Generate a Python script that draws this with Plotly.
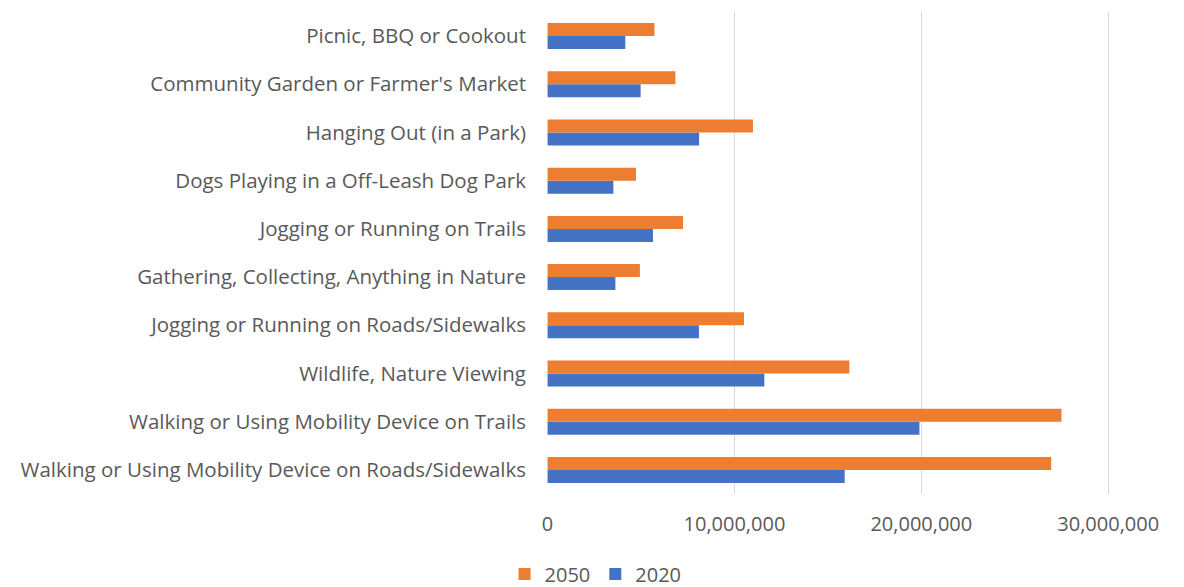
import plotly.graph_objects as go

categories = [
    "Walking or Using Mobility Device on Roads/Sidewalks",
    "Walking or Using Mobility Device on Trails",
    "Wildlife, Nature Viewing",
    "Jogging or Running on Roads/Sidewalks",
    "Gathering, Collecting, Anything in Nature",
    "Jogging or Running on Trails",
    "Dogs Playing in a Off-Leash Dog Park",
    "Hanging Out (in a Park)",
    "Community Garden or Farmer's Market",
    "Picnic, BBQ or Cookout",
]
values_2020 = [15900000, 19900000, 11600000, 8100000, 3630000, 5640000, 3520000, 8110000, 4980000, 4160000]
values_2050 = [26950000, 27500000, 16150000, 10510000, 4940000, 7250000, 4730000, 10990000, 6840000, 5720000]
tick_vals = [0, 10000000, 20000000, 30000000]
tick_text = ["0", "10,000,000", "20,000,000", "30,000,000"]

fig = go.Figure()
fig.add_trace(go.Bar(y=categories, x=values_2020, name="2020", orientation="h",
                     marker=dict(color="#4472C4", line=dict(width=0))))
fig.add_trace(go.Bar(y=categories, x=values_2050, name="2050", orientation="h",
                     marker=dict(color="#ED7D31", line=dict(width=0))))

font_family = "Open Sans, Noto Sans, sans-serif"
fig.update_layout(
    width=1184, height=587,
    barmode="group", bargap=0.46, bargroupgap=0,
    plot_bgcolor="white", paper_bgcolor="white",
    margin=dict(l=547, r=73, t=12, b=93),
    font=dict(family=font_family, size=20, color="#595959"),
    showlegend=True,
    legend=dict(orientation="h", traceorder="reversed",
                xref="container", yref="container",
                x=0.503, xanchor="center", y=0.022, yanchor="middle",
                font=dict(size=20, color="#595959"),
                itemwidth=30, tracegroupgap=0),
    xaxis=dict(range=[-30000, 30150000], tickvals=tick_vals, ticktext=tick_text,
               showgrid=True, gridcolor="#d9d9d9", gridwidth=1,
               zeroline=False, showline=False, ticks="",
               ticklabelstandoff=16, fixedrange=True),
    yaxis=dict(type="category", categoryorder="array", categoryarray=categories,
               showgrid=False, zeroline=False, showline=False, ticks="",
               ticklabelstandoff=20, automargin=False,
               tickfont=dict(size=20.5)),
)
fig.write_html("out.html", config={"displayModeBar": False},
               post_script="document.body.style.margin='0px';")
